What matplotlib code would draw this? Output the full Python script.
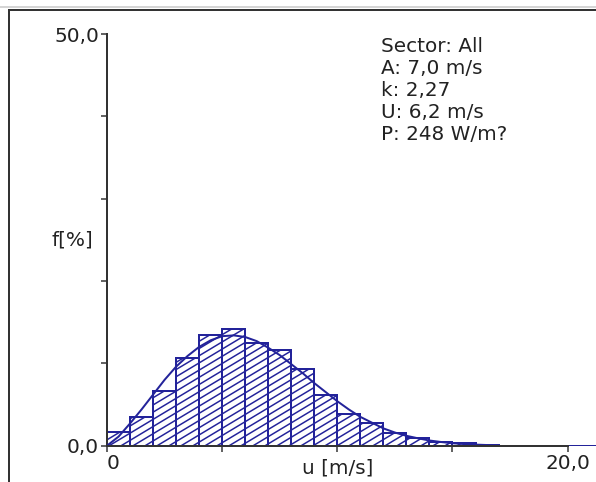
import numpy as np
import matplotlib
matplotlib.use("Agg")
import matplotlib.pyplot as plt
import matplotlib.hatch as mhatch
from matplotlib.path import Path
from matplotlib.lines import Line2D

# histogram bins (1 m/s wide), frequency in %
bin_left = [0, 1, 2, 3, 4, 5, 6, 7, 8, 9, 10, 11, 12, 13, 14, 15, 16]
freq = [1.7, 3.45, 6.7, 10.7, 13.5, 14.2, 12.5, 11.6, 9.3, 6.2, 3.85, 2.8, 1.5, 0.95, 0.5, 0.3, 0.1]

# fitted curve
curve_u = [0, 0.5, 1, 1.5, 2, 2.5, 3, 3.5, 4, 4.5, 5, 5.5, 6, 6.5, 7, 7.5, 8, 8.5,
           9, 9.5, 10, 10.5, 11, 11.5, 12, 12.5, 13, 13.5, 14, 14.5, 15, 15.5, 16, 16.5]
curve_f = [0, 1.1, 2.7, 4.4, 6.2, 8.0, 9.6, 10.9, 12.0, 12.8, 13.3, 13.4, 13.2, 12.7,
           11.9, 11.0, 9.9, 8.8, 7.6, 6.5, 5.4, 4.4, 3.5, 2.8, 2.1, 1.6, 1.2, 0.9,
           0.63, 0.45, 0.3, 0.2, 0.13, 0.08]

info = ["Sector: All", "A: 7,0 m/s", "k: 2,27", "U: 6,2 m/s", "P: 248 W/m?"]


# flatter '/' hatch (slope 3/5) like the original program draws
class FlatHatch(mhatch.HatchPatternBase):
    def __init__(self, hatch, density):
        self.num_lines = 17 if "/" in hatch else 0
        self.num_vertices = self.num_lines * 2

    def set_vertices_and_codes(self, vertices, codes):
        c = np.arange(-6, 11) / 10.0
        vertices[0::2, 0] = -0.2
        vertices[0::2, 1] = c - 0.12
        vertices[1::2, 0] = 1.2
        vertices[1::2, 1] = c + 0.72
        codes[0::2] = Path.MOVETO
        codes[1::2] = Path.LINETO


mhatch._hatch_types = [FlatHatch if t is mhatch.NorthEastHatch else t
                       for t in mhatch._hatch_types]

navy = "#23239a"
txt = "#222222"
fs = 20
plt.rcParams["hatch.linewidth"] = 1.5

fig = plt.figure(figsize=(596 / 72, 482 / 72), dpi=72)
ax = fig.add_axes([107 / 596, 36.3 / 482, 1 - 107 / 596, (445.7 - 34) / 482])

ax.axhline(0, color=navy, lw=2, zorder=1)
ax.bar(bin_left, freq, width=1, align="edge", facecolor="none",
       edgecolor=navy, hatch="/", lw=2, zorder=2)
ax.plot(curve_u, curve_f, color=navy, lw=2, zorder=3)

ax.set_xlim(0, (596 - 107.7) / 23)
ax.set_ylim(0, 50)
for s in ["top", "right"]:
    ax.spines[s].set_visible(False)
for s in ["left", "bottom"]:
    ax.spines[s].set_color("#333333")
    ax.spines[s].set_linewidth(2)
ax.spines["bottom"].set_bounds(0, 20)
ax.spines["bottom"].set_zorder(4)

ax.set_yticks([0, 10, 20, 30, 40, 50])
ax.set_yticklabels(["0,0", "", "", "", "", "50,0"])
ax.set_xticks([0, 5, 10, 15, 20])
ax.set_xticklabels(["0", "", "", "", "20,0"])
ax.tick_params(colors="#333333", width=1.5, length=6, labelsize=fs, labelcolor=txt, pad=2)
ax.get_xticklabels()[0].set_horizontalalignment("left")

ax.text(-0.029, 25, "f[%]", transform=ax.get_yaxis_transform(), ha="right", va="center",
        fontsize=fs, color=txt)
ax.text(10, -0.055, "u [m/s]", transform=ax.get_xaxis_transform(), ha="center", va="center",
        fontsize=fs, color=txt)

for i, line in enumerate(info):
    fig.text(381 / 596, 1 - (46 + 22 * i) / 482, line, ha="left", va="center",
             fontsize=fs, color=txt)

# window frame
fig.add_artist(Line2D([0, 1], [1 - 7 / 482] * 2, color="#c8c8c8", lw=1.5))
fig.add_artist(Line2D([9 / 596, 1], [1 - 9.5 / 482] * 2, color="#333333", lw=2))
fig.add_artist(Line2D([9 / 596] * 2, [0, 1 - 9.5 / 482], color="#333333", lw=2))

fig.savefig("out.png", dpi=72)
